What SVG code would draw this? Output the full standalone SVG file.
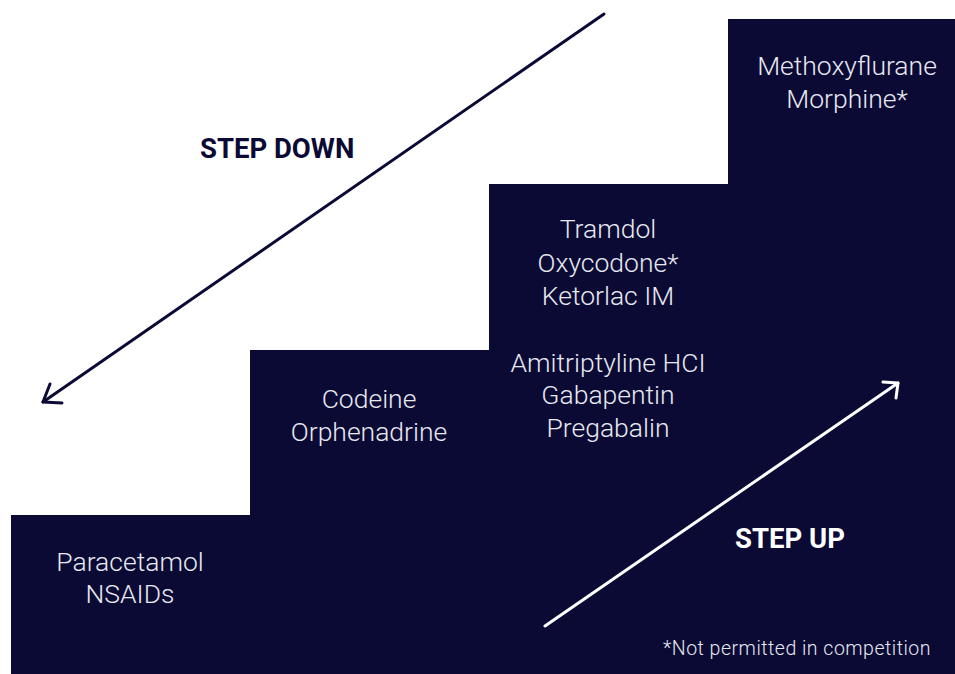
<svg xmlns="http://www.w3.org/2000/svg" width="955" height="674" viewBox="0 0 955 674">
<style>
.step{fill:#0a0a35;}
.lbl{font-family:Roboto,"Liberation Sans",sans-serif;font-weight:300;font-size:26.5px;fill:#e8e8f0;text-anchor:middle;}
.head{font-family:Roboto,"Liberation Sans",sans-serif;font-weight:700;font-size:27.5px;}
.note{font-family:Roboto,"Liberation Sans",sans-serif;font-weight:300;font-size:19.5px;letter-spacing:0.5px;fill:#e8e8f0;text-anchor:middle;}
.arrow{fill:none;stroke-width:3;stroke-linecap:round;stroke-linejoin:round;}
</style>
<rect width="955" height="674" fill="#ffffff"/>
<g id="stairs">
<path class="step" d="M11,515 H250 V350 H489 V184 H728 V19 H955 V674 H11 Z"/>
</g>
<g id="step1">
<text class="lbl" x="130" y="571">Paracetamol</text>
<text class="lbl" x="130" y="603">NSAIDs</text>
</g>
<g id="step2">
<text class="lbl" x="369" y="408">Codeine</text>
<text class="lbl" x="369" y="441">Orphenadrine</text>
</g>
<g id="step3">
<text class="lbl" x="608" y="238">Tramdol</text>
<text class="lbl" x="608" y="272">Oxycodone*</text>
<text class="lbl" x="608" y="305">Ketorlac IM</text>
<text class="lbl" x="608" y="372">Amitriptyline HCI</text>
<text class="lbl" x="608" y="404">Gabapentin</text>
<text class="lbl" x="608" y="437">Pregabalin</text>
</g>
<g id="step4">
<text class="lbl" x="847" y="75">Methoxyflurane</text>
<text class="lbl" x="847" y="108">Morphine*</text>
</g>
<g id="connectors">
<g id="step-down">
<path class="arrow" stroke="#0a0a35" d="M604,14 L43,402"/>
<path class="arrow" stroke="#0a0a35" d="M50,384 L43,402 L62,403"/>
</g>
<g id="step-up">
<path class="arrow" stroke="#ffffff" d="M545,626 L898,383"/>
<path class="arrow" stroke="#ffffff" d="M883,382 L898,383 L896,398"/>
</g>
</g>
<text class="head" x="200" y="158" fill="#0a0a35">STEP DOWN</text>
<text class="head" x="735" y="548" fill="#ffffff">STEP UP</text>
<text class="note" x="797" y="655">*Not permitted in competition</text>
</svg>
